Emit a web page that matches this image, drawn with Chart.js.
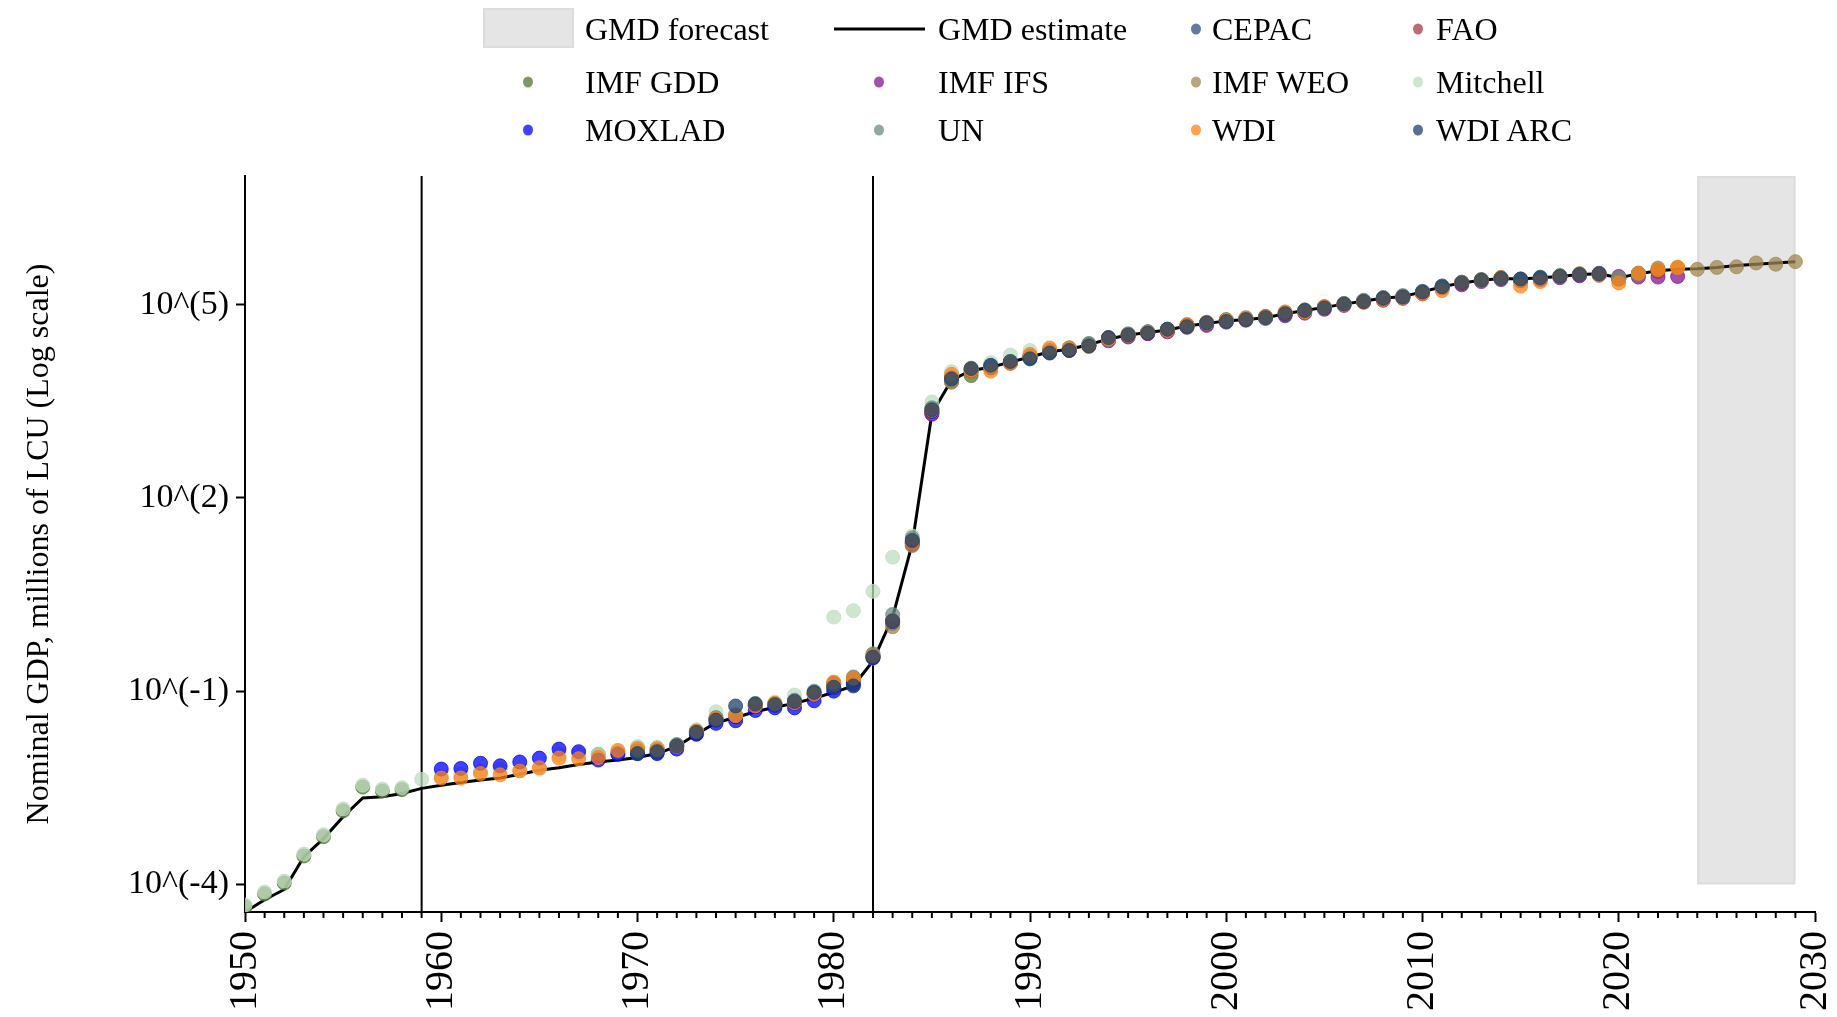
<!DOCTYPE html>
<html>
<head>
<meta charset="utf-8">
<title>Nominal GDP</title>
<script src="https://cdn.jsdelivr.net/npm/chart.js@4.4.1/dist/chart.umd.min.js"></script>
<style>
    html, body { margin: 0; padding: 0; background: #fff; }
    #wrap { position: relative; width: 1837px; height: 1017px; overflow: hidden; }
    #chart { position: absolute; left: 0; top: 0; }
    .lg-text {
        position: absolute;
        font-family: 'Liberation Serif', 'Times New Roman', serif;
        font-size: 32px;
        line-height: 1.15;
        color: #000;
        white-space: nowrap;
        transform: translateY(-50%);
    }
    .lg-dot { position: absolute; width: 10px; height: 11px; border-radius: 50%; transform: translate(-50%, -50%); }
    .lg-box { position: absolute; background: #e5e5e5; border: 2px solid #dcdcdc; box-sizing: border-box; }
    .lg-line { position: absolute; height: 3px; background: #000; transform: translateY(-50%); }
</style>
</head>
<body>
<div id="wrap">
    <canvas id="chart" width="1837" height="1017"></canvas>
</div>
<script>
// Values are log10 of nominal GDP (millions of LCU)
const gmdStart = 1950;
const gmd = [
    -4.43, -4.24, -4.08, -3.57, -3.29, -2.95, -2.66, -2.64, -2.59, -2.51,
    -2.46, -2.42, -2.38, -2.35, -2.29, -2.23, -2.19, -2.14, -2.10, -2.07,
    -2.03, -1.97, -1.86, -1.67, -1.49, -1.41, -1.32, -1.25, -1.19, -1.11,
    -1.02, -0.92, -0.53, 0.15, 1.29, 3.31, 3.83, 3.98, 4.03, 4.11,
    4.19, 4.27, 4.31, 4.38, 4.47, 4.53, 4.57, 4.61, 4.67, 4.71,
    4.75, 4.77, 4.80, 4.86, 4.91, 4.96, 5.01, 5.06, 5.10, 5.13,
    5.20, 5.28, 5.34, 5.38, 5.41, 5.40, 5.42, 5.44, 5.47, 5.48,
    5.42, 5.48, 5.53, 5.55, 5.56, 5.58, 5.61, 5.63, 5.65, 5.67
];

const cepacStart = 1970;
const cepac = [
    -1.96, -1.95, -1.87, -1.66, -1.45, -1.40, -1.22, -1.22, -1.17, -1.04,
    -0.93, -0.88, -0.46, 0.10, 1.33, 3.38, 3.86, 4.01, 4.05, 4.12,
    4.17, 4.26, 4.30, 4.37, 4.49, 4.52, 4.58, 4.60, 4.68, 4.70,
    4.76, 4.78, 4.81, 4.85, 4.90, 4.97, 5.00, 5.05, 5.11, 5.12,
    5.19, 5.29, 5.33, 5.39, 5.42, 5.40, 5.41, 5.45, 5.46, 5.49,
    5.41, 5.49, 5.54
];

const faoStart = 1970;
const fao = [
    -1.92, -1.91, -1.85, -1.63, -1.44, -1.39, -1.24, -1.20, -1.19, -1.06,
    -0.88, -0.84, -0.46, 0.07, 1.27, 3.31, 3.88, 3.99, 4.04, 4.10,
    4.21, 4.29, 4.33, 4.36, 4.48, 4.54, 4.56, 4.61, 4.69, 4.72,
    4.75, 4.78, 4.80, 4.87, 4.90, 4.96, 5.01, 5.06, 5.09, 5.13,
    5.20, 5.27, 5.35, 5.38, 5.41, 5.38, 5.42, 5.44, 5.47, 5.48,
    5.40, 5.47, 5.52
];

const imfGddStart = 1950;
const imfGdd = [
    -4.35, -4.15, -3.98, -3.56, -3.26, -2.86, -2.49, -2.55, -2.53, null,
    null, null, null, null, null, null, null, null, -1.98, -1.96,
    -1.88, -1.88, -1.84, -1.62, -1.42, -1.37, -1.22, -1.19, -1.15, -1.03,
    -0.89, -0.80, -0.44, 0.05, 1.30, 3.33, 3.80, 3.90, 4.02, 4.10,
    4.20, 4.28, 4.30, 4.39, 4.46, 4.54, 4.57, 4.60, 4.68, 4.71,
    4.77, 4.78, 4.82, 4.85, 4.92, 4.96, 5.02, 5.05, 5.10, 5.12,
    5.18, 5.29, 5.33, 5.39, 5.42, 5.38, 5.41, 5.45, 5.48, 5.47,
    5.40, 5.48, 5.53
];

const imfIfsStart = 1985;
const imfIfs = [
    3.30, 3.84, 3.97, 4.02, 4.10,
    4.18, 4.26, 4.29, 4.37, 4.44, 4.50, 4.55, 4.58, 4.65, 4.68,
    4.73, 4.76, 4.79, 4.83, 4.87, 4.93, 4.99, 5.04, 5.07, 5.10,
    5.17, 5.26, 5.31, 5.36, 5.39, 5.37, 5.39, 5.42, 5.45, 5.46,
    5.44, 5.43, 5.43, 5.44
];

const imfWeoStart = 1980;
const imfWeo = [
    -0.95, -0.86, -0.49, 0.00, 1.26, 3.33, 3.80, 3.95, 4.04, 4.11,
    4.19, 4.27, 4.33, 4.38, 4.47, 4.52, 4.58, 4.62, 4.66, 4.71,
    4.76, 4.77, 4.81, 4.86, 4.90, 4.96, 5.00, 5.06, 5.10, 5.14,
    5.19, 5.28, 5.35, 5.38, 5.42, 5.39, 5.42, 5.44, 5.47, 5.48,
    5.42, 5.48, 5.57, 5.58, 5.55, 5.58, 5.59, 5.65, 5.63, 5.67
];

const mitchellStart = 1950;
const mitchell = [
    -4.32, -4.12, -3.95, -3.53, -3.23, -2.83, -2.46, -2.52, -2.50, -2.37,
    -2.32, -2.29, -2.24, -2.21, -2.23, -2.21, -1.98, -1.98, -1.98, -1.95,
    -1.86, -1.88, -1.83, -1.60, -1.32, -1.36, -1.21, -1.17, -1.06, -1.05,
    0.15, 0.25, 0.55, 1.08, 1.41, 3.49, 3.96, 4.02, 4.10, 4.22,
    4.29
];

const moxladStart = 1960;
const moxlad = [
    -2.21, -2.20, -2.12, -2.16, -2.10, -2.04, -1.90, -1.94, -2.07, -1.98,
    -1.97, -1.97, -1.90, -1.67, -1.50, -1.46, -1.30, -1.26, -1.26, -1.15,
    -1.00, -0.90, -0.48, 0.08, 1.30, 3.34
];

const unStart = 1970;
const un = [
    -1.93, -1.92, -1.83, -1.63, -1.41, -1.38, -1.19, -1.20, -1.14, -1.00,
    -0.90, -0.78, -0.42, 0.19, 1.38, 3.40, 3.86, 4.00, 4.05, 4.09,
    4.20, 4.28, 4.31, 4.40, 4.46, 4.55, 4.58, 4.62, 4.66, 4.72,
    4.74, 4.80, 4.79, 4.88, 4.92, 4.95, 5.02, 5.07, 5.11, 5.14,
    5.21, 5.27, 5.35, 5.37, 5.40, 5.39, 5.43, 5.43, 5.48, 5.47,
    5.41, 5.47
];

const wdiStart = 1960;
const wdi = [
    -2.35, -2.35, -2.28, -2.30, -2.24, -2.19, -2.04, -2.05, -2.03, -1.92,
    -1.90, -1.90, -1.86, -1.62, -1.43, -1.38, -1.23, -1.19, -1.18, -1.05,
    -0.86, -0.80, -0.45, 0.09, 1.30, 3.36, 3.92, 3.99, 3.97, 4.09,
    4.23, 4.33, 4.32, 4.35, 4.47, 4.53, 4.57, 4.60, 4.69, 4.73,
    4.76, 4.79, 4.81, 4.89, 4.89, 4.97, 5.00, 5.04, 5.08, 5.11,
    5.17, 5.22, 5.34, 5.38, 5.42, 5.29, 5.36, 5.44, 5.48, 5.46,
    5.34, 5.49, 5.54, 5.58
];

const wdiArcStart = 1970;
const wdiArc = [
    -1.97, -1.94, -1.85, -1.64, -1.45, -1.23, -1.20, -1.21, -1.16, -1.02,
    -0.94, -0.92, -0.47, 0.09, 1.34, 3.37, 3.85, 4.01, 4.06, 4.12,
    4.16, 4.25, 4.29, 4.36, 4.49, 4.53, 4.56, 4.62, 4.66, 4.72,
    4.74, 4.77, 4.80, 4.86, 4.91, 4.95, 5.01, 5.05, 5.10, 5.12,
    5.20, 5.28, 5.34, 5.38, 5.41, 5.40, 5.42, 5.44, 5.47, 5.48
];

// Axis settings
const xTickYears = [1950, 1960, 1970, 1980, 1990, 2000, 2010, 2020, 2030];
const yTickExps = [-4, -1, 2, 5];
const yMinExp = -4.43;
const yMaxExp = 7;
const forecastYears = [2024, 2029];
const breakYears = [1959, 1982];
const yTitle = 'Nominal GDP, millions of LCU (Log scale)';

// Sources, in legend / drawing order
const sourceNames = ['CEPAC', 'FAO', 'IMF GDD', 'IMF IFS', 'IMF WEO', 'Mitchell', 'MOXLAD', 'UN', 'WDI', 'WDI ARC'];
const sourceStarts = [cepacStart, faoStart, imfGddStart, imfIfsStart, imfWeoStart, mitchellStart, moxladStart, unStart, wdiStart, wdiArcStart];
const sourceValues = [cepac, fao, imfGdd, imfIfs, imfWeo, mitchell, moxlad, un, wdi, wdiArc];
const sourceColors = [
    'rgba(40, 80, 125, 0.75)',
    'rgba(160, 60, 65, 0.75)',
    'rgba(85, 120, 50, 0.75)',
    'rgba(135, 20, 145, 0.75)',
    'rgba(160, 135, 80, 0.75)',
    'rgba(190, 220, 190, 0.75)',
    'rgba(0, 0, 255, 0.75)',
    'rgba(110, 140, 130, 0.75)',
    'rgba(255, 130, 20, 0.75)',
    'rgba(30, 65, 105, 0.75)'
];

function toPoints(start, values) {
    const pts = [];
    values.forEach((v, i) => {
        if (v !== null) pts.push({ x: start + i, y: Math.pow(10, v) });
    });
    return pts;
}

// Forecast band and the two vertical break lines, under the data
const backdropPlugin = {
    id: 'backdrop',
    beforeDatasetsDraw(chart) {
        const { ctx, chartArea, scales } = chart;
        const x0 = scales.x.getPixelForValue(forecastYears[0]);
        const x1 = scales.x.getPixelForValue(forecastYears[1]);
        const yb = scales.y.getPixelForValue(Math.pow(10, yTickExps[0]));
        ctx.save();
        ctx.fillStyle = '#e5e5e5';
        ctx.fillRect(x0, chartArea.top, x1 - x0, yb - chartArea.top);
        ctx.strokeStyle = '#dcdcdc';
        ctx.lineWidth = 2;
        ctx.strokeRect(x0 + 1, chartArea.top + 1, x1 - x0 - 2, yb - chartArea.top - 2);

        ctx.strokeStyle = '#000';
        ctx.lineWidth = 2;
        breakYears.forEach(yr => {
            const x = scales.x.getPixelForValue(yr);
            ctx.beginPath();
            ctx.moveTo(x, chartArea.top);
            ctx.lineTo(x, chartArea.bottom);
            ctx.stroke();
        });
        ctx.restore();
    }
};

// Yearly minor ticks on the x axis
const minorTicksPlugin = {
    id: 'minorTicks',
    afterDraw(chart) {
        const { ctx, chartArea, scales } = chart;
        ctx.save();
        ctx.strokeStyle = '#000';
        ctx.lineWidth = 2;
        for (let yr = scales.x.min + 1; yr < scales.x.max; yr++) {
            if (yr % 10 === 0) continue;
            const x = scales.x.getPixelForValue(yr);
            ctx.beginPath();
            ctx.moveTo(x, chartArea.bottom);
            ctx.lineTo(x, chartArea.bottom + 6);
            ctx.stroke();
        }
        ctx.restore();
    }
};

Chart.defaults.font.family = "'Liberation Serif', 'Times New Roman', serif";
Chart.defaults.color = '#000';

const datasets = [{
    label: 'GMD estimate',
    data: toPoints(gmdStart, gmd),
    showLine: true,
    borderColor: '#000',
    borderWidth: 3,
    pointRadius: 0,
    tension: 0,
    order: 20
}];

sourceNames.forEach((name, i) => {
    datasets.push({
        label: name,
        data: toPoints(sourceStarts[i], sourceValues[i]),
        backgroundColor: sourceColors[i],
        borderColor: sourceColors[i],
        borderWidth: 1,
        pointRadius: 7,
        order: sourceNames.length - i
    });
});

new Chart(document.getElementById('chart'), {
    type: 'scatter',
    data: { datasets: datasets },
    options: {
        responsive: false,
        animation: false,
        devicePixelRatio: 1,
        layout: { padding: { top: 176, right: 22, left: 0, bottom: 0 } },
        plugins: {
            legend: { display: false },
            tooltip: { enabled: false }
        },
        scales: {
            x: {
                type: 'linear',
                min: 1950,
                max: 2030,
                afterBuildTicks: s => { s.ticks = xTickYears.map(v => ({ value: v })); },
                afterFit: s => {
                    s.height = 105;
                    // the rotated end labels may overhang; keep the plot edges fixed
                    s.paddingLeft = 0;
                    s.paddingRight = 0;
                },
                ticks: {
                    font: { size: 40 },
                    minRotation: 90,
                    maxRotation: 90,
                    padding: 9,
                    autoSkip: false,
                    callback: v => String(v)
                },
                grid: { drawOnChartArea: false, tickLength: 10, tickWidth: 2, tickColor: '#000' },
                border: { color: '#000', width: 2 }
            },
            y: {
                type: 'logarithmic',
                min: Math.pow(10, yMinExp),
                max: Math.pow(10, yMaxExp),
                afterBuildTicks: s => { s.ticks = yTickExps.map(e => ({ value: Math.pow(10, e) })); },
                afterFit: s => {
                    s.width = 245;
                    s.paddingTop = 0;
                    s.paddingBottom = 0;
                },
                ticks: {
                    font: { size: 34 },
                    padding: 7,
                    autoSkip: false,
                    callback: v => '10^(' + Math.round(Math.log10(v)) + ')'
                },
                grid: { drawOnChartArea: false, tickLength: 9, tickWidth: 2, tickColor: '#000' },
                border: { color: '#000', width: 2 },
                title: { display: true, text: yTitle, font: { size: 32 }, padding: { top: 20, bottom: 0 } }
            }
        }
    },
    plugins: [backdropPlugin, minorTicksPlugin]
});

// HTML legend, 4 columns x 3 rows
const legendRows = [29, 82, 130];
const legendTextX = [585, 938, 1212, 1436];
const legendMarkX = [528, 879, 1196, 1418];
const wrap = document.getElementById('wrap');

function addText(text, col, row) {
    const el = document.createElement('div');
    el.className = 'lg-text';
    el.textContent = text;
    el.style.left = legendTextX[col] + 'px';
    el.style.top = legendRows[row] + 'px';
    wrap.appendChild(el);
}

const box = document.createElement('div');
box.className = 'lg-box';
box.style.left = '483px'; box.style.top = '8px';
box.style.width = '91px'; box.style.height = '40px';
wrap.appendChild(box);
addText('GMD forecast', 0, 0);

const line = document.createElement('div');
line.className = 'lg-line';
line.style.left = '834px'; line.style.width = '91px';
line.style.top = legendRows[0] + 'px';
wrap.appendChild(line);
addText('GMD estimate', 1, 0);

sourceNames.forEach((name, i) => {
    const slot = i + 2;
    const row = Math.floor(slot / 4);
    const col = slot % 4;
    const dot = document.createElement('div');
    dot.className = 'lg-dot';
    dot.style.background = sourceColors[i];
    dot.style.left = legendMarkX[col] + 'px';
    dot.style.top = legendRows[row] + 'px';
    wrap.appendChild(dot);
    addText(name, col, row);
});
</script>
</body>
</html>
